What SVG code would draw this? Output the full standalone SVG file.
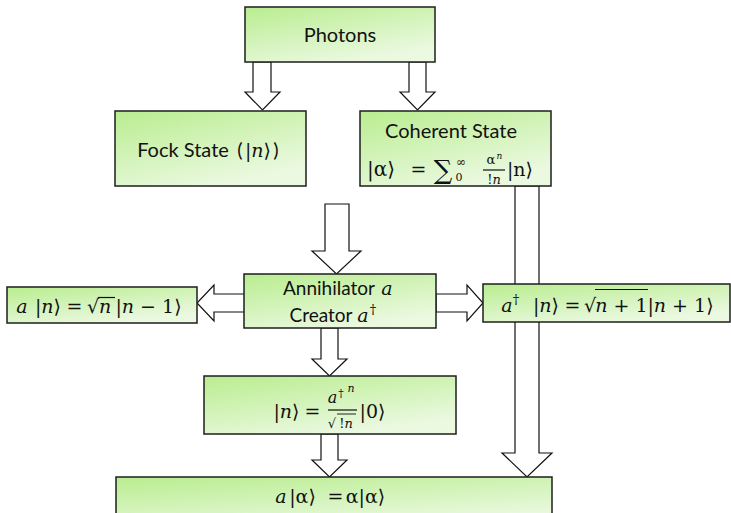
<svg xmlns="http://www.w3.org/2000/svg" width="731" height="513" viewBox="0 0 731 513">
<style>
.box{fill:url(#g);stroke:#1e1e1e;stroke-width:1.5}
.arr{fill:#fff;stroke:#111;stroke-width:1.2;stroke-linejoin:miter}
.t{font-family:Lato,"Liberation Sans",sans-serif;font-size:20px;fill:#111;text-anchor:middle}
.m{font-family:"DejaVu Serif","Liberation Serif",serif;font-size:19px;fill:#111;text-anchor:middle}
.i{font-style:italic}
.ln{stroke:#111;stroke-width:1.2}
</style>
<defs>
<linearGradient id="g" x1="0" y1="0" x2="0.55" y2="1">
<stop offset="0" stop-color="#b9ed8f"/>
<stop offset="1" stop-color="#ebf9e1"/>
</linearGradient>
</defs>
<g id="connectors">
<polygon class="arr" points="253,62 271,62 271,92 280,92 262.5,110 245,92 253,92"/>
<polygon class="arr" points="409,62 426,62 426,92 435,92 417.5,110 400,92 409,92"/>
<polygon class="arr" points="325,204 349,204 349,251 361,251 336.5,274 312,251 325,251"/>
<polygon class="arr" points="245,294 214,294 214,285 197,303 214,321 214,312 245,312"/>
<polygon class="arr" points="436,294 467,294 467,285 483,303 467,321 467,312 436,312"/>
<polygon class="arr" points="321,328 338,328 338,359 347,359 329.5,376 312,359 321,359"/>
<polygon class="arr" points="321,434 338,434 338,460 347,460 329.5,477 312,460 321,460"/>
<polygon class="arr" points="515,186 539,186 539,453 552,453 527,477 502,453 515,453"/>
</g>
<g id="photons">
<rect class="box" x="245" y="7" width="190" height="55"/>
<text class="t" x="340" y="42">Photons</text>
</g>
<g id="fock">
<rect class="box" x="115" y="111" width="191" height="75"/>
<text class="t" x="183" y="157">Fock State</text>
<text class="t" x="240" y="157">(</text>
<text class="m" x="258" y="157">|<tspan class="i">n</tspan>⟩</text>
<text class="t" x="276" y="157">)</text>
</g>
<g id="coherent">
<rect class="box" x="360" y="111" width="191" height="75"/>
<text class="t" x="451" y="138">Coherent State</text>
<text class="m" x="381" y="176" style="font-size:20px">|α⟩</text>
<text class="m" x="418.5" y="176">=</text>
<text class="m" x="443" y="179" style="font-size:26px">∑</text>
<text class="m" x="459" y="181" style="font-size:11px">0</text>
<text class="m" x="461" y="166" style="font-size:12px">∞</text>
<text class="m" x="491" y="164" style="font-size:13px">α</text>
<text class="m i" x="499.5" y="158.5" style="font-size:9px">n</text>
<line class="ln" x1="483" y1="170" x2="505" y2="170"/>
<text class="m" x="494" y="184" style="font-size:13px">!<tspan class="i">n</tspan></text>
<text class="m" x="520" y="176">|n⟩</text>
</g>
<g id="annihilator">
<rect class="box" x="244" y="274" width="192" height="54"/>
<text class="t" x="329" y="295" style="font-size:19px">Annihilator</text>
<text class="m i" x="387" y="295">a</text>
<text class="t" x="321" y="322" style="font-size:19px">Creator</text>
<text class="m i" x="363" y="322">a</text>
<text class="m" x="373" y="314" style="font-size:13px">†</text>
</g>
<g id="lowering">
<rect class="box" x="7" y="287" width="190" height="36"/>
<text class="m i" x="22" y="313">a</text>
<text class="m" x="48" y="313">|<tspan class="i">n</tspan>⟩</text>
<text class="m" x="74.5" y="313">=</text>
<text class="m" x="93" y="313">√</text>
<text class="m i" x="105" y="313">n</text>
<line class="ln" x1="98" y1="297.5" x2="115" y2="297.5"/>
<text class="m" x="148.5" y="313">|<tspan class="i">n</tspan> − 1⟩</text>
</g>
<g id="raising">
<rect class="box" x="483" y="284" width="247" height="38"/>
<text class="m i" x="507" y="312">a</text>
<text class="m" x="516" y="304" style="font-size:13px">†</text>
<text class="m" x="546" y="312">|<tspan class="i">n</tspan>⟩</text>
<text class="m" x="572.5" y="312">=</text>
<text class="m" x="590" y="312">√</text>
<text class="m" x="621.5" y="312"><tspan class="i">n</tspan> + 1</text>
<line class="ln" x1="595" y1="289.5" x2="648" y2="289.5"/>
<text class="m" x="680.5" y="312">|<tspan class="i">n</tspan> + 1⟩</text>
</g>
<g id="fockgen">
<rect class="box" x="204" y="376" width="252" height="58"/>
<text class="m" x="286.5" y="418">|<tspan class="i">n</tspan>⟩</text>
<text class="m" x="312.5" y="418">=</text>
<text class="m i" x="332.5" y="403" style="font-size:16px">a</text>
<text class="m" x="341" y="397" style="font-size:11px">†</text>
<text class="m i" x="351" y="392" style="font-size:11px">n</text>
<line class="ln" x1="328" y1="410" x2="357" y2="410"/>
<text class="m" x="332" y="428" style="font-size:13px">√</text>
<text class="m" x="346" y="428" style="font-size:13px">!<tspan class="i">n</tspan></text>
<line class="ln" x1="337" y1="414" x2="356" y2="414" style="stroke-width:0.9"/>
<text class="m" x="372.5" y="418">|0⟩</text>
</g>
<g id="eigen">
<rect class="box" x="116" y="477" width="436" height="50"/>
<text class="m i" x="281" y="503">a</text>
<text class="m" x="302.5" y="503">|α⟩</text>
<text class="m" x="335.5" y="503">=</text>
<text class="m" x="365.5" y="503">α|α⟩</text>
</g>
</svg>
